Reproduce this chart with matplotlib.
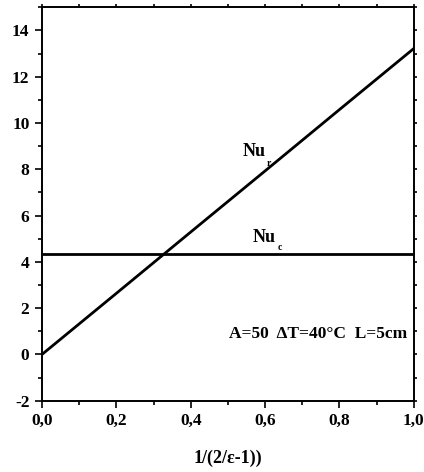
import matplotlib
matplotlib.use("Agg")
import matplotlib.pyplot as plt
from matplotlib.ticker import MultipleLocator, FuncFormatter

# data
x_r = [0.0, 0.2, 0.4, 0.6, 0.8, 1.0]
nu_r = [0.0, 2.64, 5.29, 7.93, 10.58, 13.22]
x_c = [0.0, 1.0]
nu_c = [4.32, 4.32]

FONT = "Liberation Serif"
plt.rcParams.update({
    "font.family": FONT,
    "font.weight": "bold",
    "font.size": 12,
    "axes.linewidth": 1.4,
})

fig = plt.figure(figsize=(4.24, 4.72), dpi=100)
ax = fig.add_axes([0.099, 0.151, 0.877, 0.8335])

ax.plot(x_r, nu_r, color="black", lw=2.0)
ax.plot(x_c, nu_c, color="black", lw=2.0)

ax.set_xlim(0, 1)
ax.set_ylim(-2, 15)
ax.xaxis.set_major_locator(MultipleLocator(0.2))
ax.xaxis.set_minor_locator(MultipleLocator(0.1))
ax.yaxis.set_major_locator(MultipleLocator(2))
ax.yaxis.set_minor_locator(MultipleLocator(1))
ax.xaxis.set_major_formatter(FuncFormatter(lambda v, _: f"{v:.1f}".replace(".", ",")))
ax.yaxis.set_major_formatter(FuncFormatter(lambda v, _: f"{v:.0f}"))

ax.tick_params(which="both", direction="out", top=True, right=True,
               labeltop=False, labelright=False, width=1.2)
ax.tick_params(which="major", length=5, labelsize=12.5, pad=4)
ax.tick_params(which="minor", length=3)
# short outward ticks on top and right, as in the original
for t in (ax.xaxis.get_major_ticks() + ax.xaxis.get_minor_ticks()
          + ax.yaxis.get_major_ticks() + ax.yaxis.get_minor_ticks()):
    t.tick2line.set_markersize(2)

ax.text(0.54, 8.78, "Nu", fontsize=13, fontweight="bold", va="center")
ax.text(0.605, 8.25, "r", fontsize=7, fontweight="bold", va="center")
ax.text(0.567, 5.05, "Nu", fontsize=13, fontweight="bold", va="center")
ax.text(0.635, 4.6, "c", fontsize=7, fontweight="bold", va="center")

ax.text(0.503, 0.87, "A=50  \u0394T=40\u00b0C  L=5cm", fontsize=12.5,
        fontweight="bold", va="center")

fig.text(0.538, 0.028, "1/(2/\u03b5-1))", fontsize=13, fontweight="bold",
         ha="center", va="center")

fig.savefig("out.png", dpi=100)
